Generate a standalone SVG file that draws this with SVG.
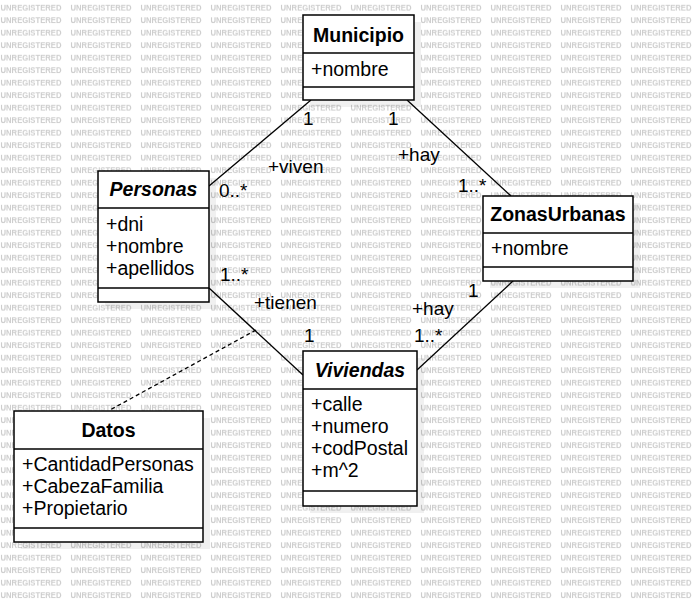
<svg xmlns="http://www.w3.org/2000/svg" width="694" height="603" viewBox="0 0 694 603">
  <defs>
    <pattern id="wm" patternUnits="userSpaceOnUse" x="0" y="0" width="70" height="12.5">
      <text x="0.5" y="10.5" class="wm" textLength="61" lengthAdjust="spacingAndGlyphs">UNREGISTERED</text>
    </pattern>
  </defs>
  <style>
    .wm { font-family: "Liberation Sans", Arial, sans-serif; font-size: 8px; font-weight: bold; fill: #cdcdcd; }
    .box { fill: #ffffff; stroke: #000000; stroke-width: 1.5; }
    .sep { stroke: #000000; stroke-width: 1.5; }
    .shadow { fill: #000000; fill-opacity: 0.06; }
    .title { font-family: "Liberation Sans", Arial, sans-serif; font-size: 19.5px; font-weight: bold; fill: #000; text-anchor: middle; }
    .abs { font-style: italic; }
    .attr { font-family: "Liberation Sans", Arial, sans-serif; font-size: 19.5px; fill: #000; }
    .lbl { font-family: "Liberation Sans", Arial, sans-serif; font-size: 19px; fill: #000; }
    .conn { stroke: #000000; stroke-width: 1.3; fill: none; }
    .dash { stroke-dasharray: 4 3; }
  </style>
  <rect x="0" y="0" width="694" height="603" fill="#ffffff"/>
  <rect x="0" y="0" width="694" height="603" fill="url(#wm)"/>

  <g id="connectors">
    <line class="conn" x1="311" y1="100" x2="209" y2="186"/>
    <line class="conn" x1="407" y1="100" x2="511" y2="196"/>
    <line class="conn" x1="209" y1="288" x2="303" y2="375"/>
    <line class="conn" x1="513" y1="281" x2="417" y2="370"/>
    <line class="conn dash" x1="256" y1="330" x2="110" y2="410"/>
    <text class="lbl" x="303" y="125">1</text>
    <text class="lbl" x="268" y="173">+viven</text>
    <text class="lbl" x="219" y="197">0..*</text>
    <text class="lbl" x="388" y="125">1</text>
    <text class="lbl" x="398" y="161">+hay</text>
    <text class="lbl" x="458" y="192">1..*</text>
    <text class="lbl" x="220" y="281">1..*</text>
    <text class="lbl" x="254" y="309">+tienen</text>
    <text class="lbl" x="304" y="342">1</text>
    <text class="lbl" x="468" y="297">1</text>
    <text class="lbl" x="412" y="315">+hay</text>
    <text class="lbl" x="414" y="342">1..*</text>
  </g>

  <g id="Municipio">
    <rect class="shadow" x="310" y="22" width="111" height="85"/>
    <rect class="box" x="303" y="15" width="111" height="85"/>
    <line class="sep" x1="303" y1="53" x2="414" y2="53"/>
    <line class="sep" x1="303" y1="87" x2="414" y2="87"/>
    <text class="title" x="358.5" y="42">Municipio</text>
    <text class="attr" x="311" y="76">+nombre</text>
  </g>

  <g id="Personas">
    <rect class="shadow" x="105" y="178" width="111" height="131"/>
    <rect class="box" x="98" y="171" width="111" height="131"/>
    <line class="sep" x1="98" y1="208" x2="209" y2="208"/>
    <line class="sep" x1="98" y1="288" x2="209" y2="288"/>
    <text class="title abs" x="153.5" y="196">Personas</text>
    <text class="attr" x="106" y="231">+dni</text>
    <text class="attr" x="106" y="253">+nombre</text>
    <text class="attr" x="106" y="275">+apellidos</text>
  </g>

  <g id="ZonasUrbanas">
    <rect class="shadow" x="490" y="203" width="150" height="85"/>
    <rect class="box" x="483" y="196" width="150" height="85"/>
    <line class="sep" x1="483" y1="233" x2="633" y2="233"/>
    <line class="sep" x1="483" y1="267" x2="633" y2="267"/>
    <text class="title" x="558" y="221">ZonasUrbanas</text>
    <text class="attr" x="491" y="255">+nombre</text>
  </g>

  <g id="Viviendas">
    <rect class="shadow" x="310" y="358" width="114" height="155"/>
    <rect class="box" x="303" y="351" width="114" height="155"/>
    <line class="sep" x1="303" y1="389" x2="417" y2="389"/>
    <line class="sep" x1="303" y1="491" x2="417" y2="491"/>
    <text class="title abs" x="360" y="377">Viviendas</text>
    <text class="attr" x="311" y="411">+calle</text>
    <text class="attr" x="311" y="433">+numero</text>
    <text class="attr" x="311" y="455">+codPostal</text>
    <text class="attr" x="311" y="477">+m^2</text>
  </g>

  <g id="Datos">
    <rect class="shadow" x="21" y="418" width="189" height="131"/>
    <rect class="box" x="14" y="411" width="189" height="131"/>
    <line class="sep" x1="14" y1="449" x2="203" y2="449"/>
    <line class="sep" x1="14" y1="528" x2="203" y2="528"/>
    <text class="title" x="108.5" y="437">Datos</text>
    <text class="attr" x="22" y="471">+CantidadPersonas</text>
    <text class="attr" x="22" y="493">+CabezaFamilia</text>
    <text class="attr" x="22" y="515">+Propietario</text>
  </g>
</svg>
